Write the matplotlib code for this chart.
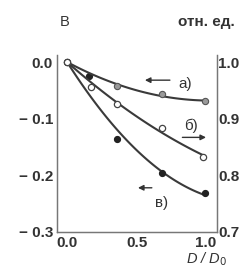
import matplotlib.pyplot as plt
import numpy as np

# values
x_a = [0.0, 0.36, 0.68, 0.99]
y_a = [1.0, 0.958, 0.943, 0.931]          # отн. ед. (right axis)

x_b = [0.0, 0.17, 0.36, 0.68, 0.98]
y_b = [1.0, 0.956, 0.926, 0.884, 0.832]   # отн. ед. (right axis)

x_v = [0.0, 0.16, 0.36, 0.68, 0.99]
y_v = [0.0, -0.025, -0.136, -0.196, -0.232]  # В (left axis)

xticks = [0.0, 0.5, 1.0]
xtick_labels = ["0.0", "0.5", "1.0"]
yticks_left = [0.0, -0.1, -0.2, -0.3]
yticks_left_labels = ["0.0", "\u2212 0.1", "\u2212 0.2", "\u2212 0.3"]
yticks_right = [1.0, 0.9, 0.8, 0.7]
yticks_right_labels = ["1.0", "0.9", "0.8", "0.7"]


def fit_curve(x, y):
    # quadratic fit forced through the first point (x=0)
    x = np.asarray(x)
    y = np.asarray(y)
    A = np.column_stack([x, x ** 2])
    coef = np.linalg.lstsq(A, y - y[0], rcond=None)[0]
    xs = np.linspace(0, x.max(), 100)
    return xs, y[0] + coef[0] * xs + coef[1] * xs ** 2


plt.rcParams["font.family"] = ["Liberation Sans", "DejaVu Sans"]
fig = plt.figure(figsize=(2.43, 2.71), dpi=100)
ax = fig.add_axes([0.235, 0.144, 0.658, 0.653])
ax2 = ax.twinx()

lc = "#3a3a3a"
xs, ys = fit_curve(x_v, y_v)
ax.plot(xs, ys, color=lc, lw=1.5, zorder=2)
ax.plot(x_v, y_v, "o", ms=4.2, mfc="#222222", mec="#222222", zorder=3)

xs, ys = fit_curve(x_a, y_a)
ax2.plot(xs, ys, color=lc, lw=1.5, zorder=2)
ax2.plot(x_a, y_a, "o", ms=4.5, mfc="#9a9a9a", mec="#555555", mew=0.8, zorder=3)

xs, ys = fit_curve(x_b, y_b)
ax2.plot(xs, ys, color=lc, lw=1.5, zorder=2)
ax2.plot(x_b, y_b, "o", ms=4.5, mfc="white", mec="#444444", mew=0.9, zorder=3)

ax.set_xlim(-0.072, 1.079)
ax.set_ylim(-0.3, 0.0124)
ax2.set_ylim(0.7, 1.0124)

for a in (ax, ax2):
    a.spines["top"].set_visible(False)
    for s in a.spines.values():
        s.set_color("#777777")
        s.set_linewidth(0.9)

ax.set_xticks(xticks)
ax.set_xticklabels(xtick_labels)
ax.set_yticks(yticks_left)
ax.set_yticklabels(yticks_left_labels)
ax2.set_yticks(yticks_right)
ax2.set_yticklabels(yticks_right_labels)
ax.tick_params(axis="both", length=0, pad=3, labelsize=11, colors="#333333")
ax2.tick_params(axis="y", length=0, pad=1, labelsize=11, colors="#333333")
for lbl in ax.get_xticklabels() + ax.get_yticklabels() + ax2.get_yticklabels():
    lbl.set_fontweight("bold")

# axis titles
fig.text(0.267, 0.92, "В", ha="center", va="center", fontsize=10.5, color="#333333")
fig.text(0.85, 0.92, "отн. ед.", ha="center", va="center", fontsize=11,
         fontweight="bold", color="#333333")
fig.text(0.85, 0.045, "D / D$_0$", ha="center", va="center", fontsize=10.5,
         style="italic", color="#333333")

# series arrows and labels
akw = dict(arrowstyle="-|>", color="#333333", lw=1.0, mutation_scale=8)
ax.annotate("", xy=(0.54, -0.032), xytext=(0.76, -0.032), arrowprops=akw)
ax.text(0.80, -0.038, "а)", fontsize=11, color="#333333", va="center")
ax.annotate("", xy=(1.02, -0.133), xytext=(0.81, -0.133), arrowprops=akw)
ax.text(0.84, -0.112, "б)", fontsize=11, color="#333333", va="center")
ax.annotate("", xy=(0.49, -0.222), xytext=(0.63, -0.222), arrowprops=akw)
ax.text(0.63, -0.249, "в)", fontsize=11, color="#333333", va="center")

fig.savefig("out.png", dpi=100)
